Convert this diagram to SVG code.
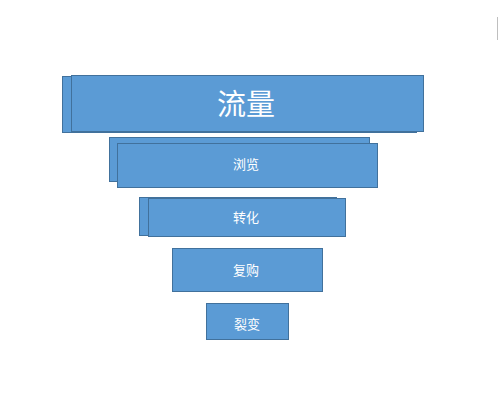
<svg xmlns="http://www.w3.org/2000/svg" width="500" height="409" viewBox="0 0 500 409">
<style>
.b{fill:#5B9BD5;stroke:#41719C;stroke-width:1}
.t{fill:#FFFFFF;font-family:"Noto Sans CJK SC","Noto Sans",sans-serif;text-anchor:middle;dominant-baseline:central}
.s{font-size:13px}
</style>
<rect width="500" height="409" fill="#FFFFFF"/>
<line x1="497.5" y1="17" x2="497.5" y2="40" stroke="#BFBFBF" stroke-width="1"/>
<g id="node-liuliang">
<rect class="b" x="62.5" y="76.5" width="354" height="56"/>
<rect class="b" x="71.5" y="75.5" width="352" height="56"/>
<text class="t" x="246" y="101.5" font-size="29">流量</text>
</g>
<g id="node-liulan">
<rect class="b" x="109.5" y="137.5" width="260" height="44"/>
<rect class="b" x="117.5" y="143.5" width="260" height="44"/>
<text class="t s" x="246" y="163">浏览</text>
</g>
<g id="node-zhuanhua">
<rect class="b" x="139.5" y="197.5" width="197" height="38"/>
<rect class="b" x="148.5" y="198.5" width="197" height="38"/>
<text class="t s" x="246" y="216">转化</text>
</g>
<g id="node-fugou">
<rect class="b" x="172.5" y="248.5" width="150" height="43"/>
<text class="t s" x="246" y="269">复购</text>
</g>
<g id="node-liebian">
<rect class="b" x="206.5" y="303.5" width="82" height="36"/>
<text class="t s" x="247" y="323.5">裂变</text>
</g>
<g id="connectors"></g>
</svg>
